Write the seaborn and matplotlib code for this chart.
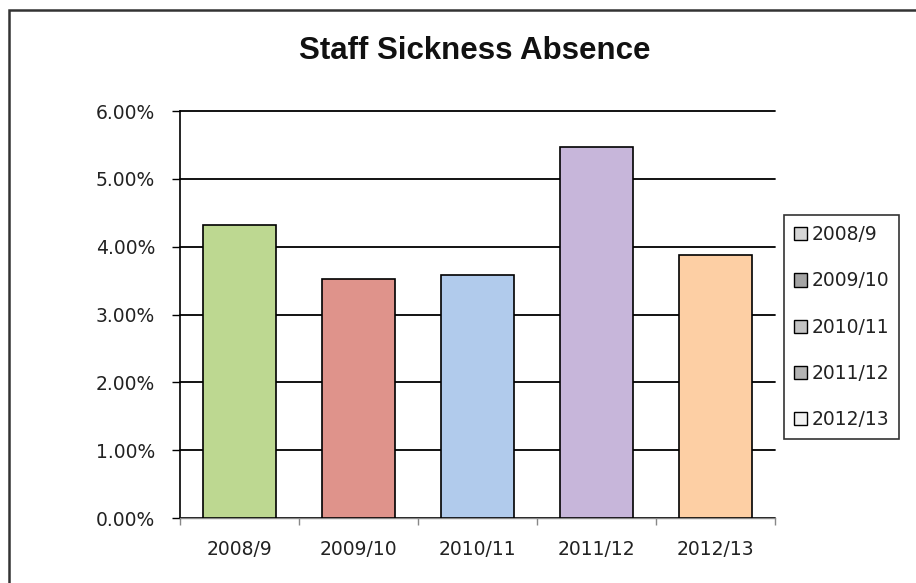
import matplotlib
matplotlib.use("Agg")
import matplotlib.pyplot as plt
import seaborn as sns
import pandas as pd
from matplotlib.patches import Patch, Rectangle
from matplotlib.ticker import FuncFormatter, FixedLocator

# ---- data ----
years = ["2008/9", "2009/10", "2010/11", "2011/12", "2012/13"]
absence = [4.32, 3.52, 3.58, 5.47, 3.88]
bar_colors = ["#bdd891", "#df938b", "#b1cbec", "#c7b6da", "#fdcfa4"]
legend_colors = ["#d6d6d6", "#a4a4a4", "#c4c4c4", "#b4b4b4", "#f2f2f2"]
y_ticks = [0, 1, 2, 3, 4, 5, 6]
title = "Staff Sickness Absence"

sns.set_theme(style="white")
plt.rcParams['font.family'] = ['DejaVu Sans']

fig = plt.figure(figsize=(9.16, 5.83), dpi=100)
W, H = 916, 583
ax = fig.add_axes([180 / W, (H - 518) / H, (775 - 180) / W, (518 - 111) / H])

df = pd.DataFrame({"year": years, "absence": absence})
sns.barplot(data=df, x="year", y="absence", hue="year", palette=bar_colors,
            width=0.61, edgecolor="black", linewidth=1.2, saturation=1,
            legend=False, ax=ax, zorder=3)

ax.set_xlim(-0.5, 4.5)
ax.set_ylim(0, 6)
ax.set_yticks(y_ticks)
ax.yaxis.set_major_formatter(FuncFormatter(lambda v, p: f"{v:.2f}%"))
ax.yaxis.grid(True, color="black", linewidth=1.3, zorder=0)
ax.xaxis.grid(False)
ax.set_axisbelow(True)
ax.set_xlabel("")
ax.set_ylabel("")
for gl in ax.yaxis.get_gridlines():
    gl.set_clip_on(False)

for s in ["top", "right"]:
    ax.spines[s].set_visible(False)
ax.spines["left"].set_color("black")
ax.spines["left"].set_linewidth(1.2)
ax.spines["bottom"].set_color("#888888")
ax.spines["bottom"].set_linewidth(1.0)

ax.tick_params(axis="y", which="major", left=True, length=6, width=1.0, color="black",
               pad=12, labelsize=13.5, labelcolor="#222222")
ax.tick_params(axis="x", which="major", bottom=False, length=0, pad=16,
               labelsize=13.5, labelcolor="#222222")
ax.xaxis.set_minor_locator(FixedLocator([-0.5, 0.5, 1.5, 2.5, 3.5, 4.5]))
ax.tick_params(axis="x", which="minor", bottom=True, length=5, width=1.0, color="#888888")

fig.text(475 / W, 1 - 51 / H, title, ha="center", va="center",
         fontsize=22.5, fontweight="bold", family=["Liberation Sans", "DejaVu Sans"],
         color="#111111")

handles = [Patch(facecolor=c, edgecolor="black", linewidth=1.0) for c in legend_colors]
leg = fig.legend(handles, years, loc="upper left",
                 bbox_to_anchor=(784 / W, 1 - 215 / H), bbox_transform=fig.transFigure,
                 borderaxespad=0, fontsize=13.5, frameon=True, fancybox=False,
                 handlelength=0.7, handleheight=0.7, handletextpad=0.2,
                 labelspacing=1.45, borderpad=0.55)
leg.get_frame().set_edgecolor("black")
leg.get_frame().set_linewidth(1.2)
for t in leg.get_texts():
    t.set_color("#222222")

fig.patches.append(Rectangle((9 / W, -0.05), 1.0, 1 - 10 / H + 0.05,
                             transform=fig.transFigure, fill=False,
                             edgecolor="#333333", linewidth=1.8, figure=fig))

fig.savefig("out.png", dpi=100)
